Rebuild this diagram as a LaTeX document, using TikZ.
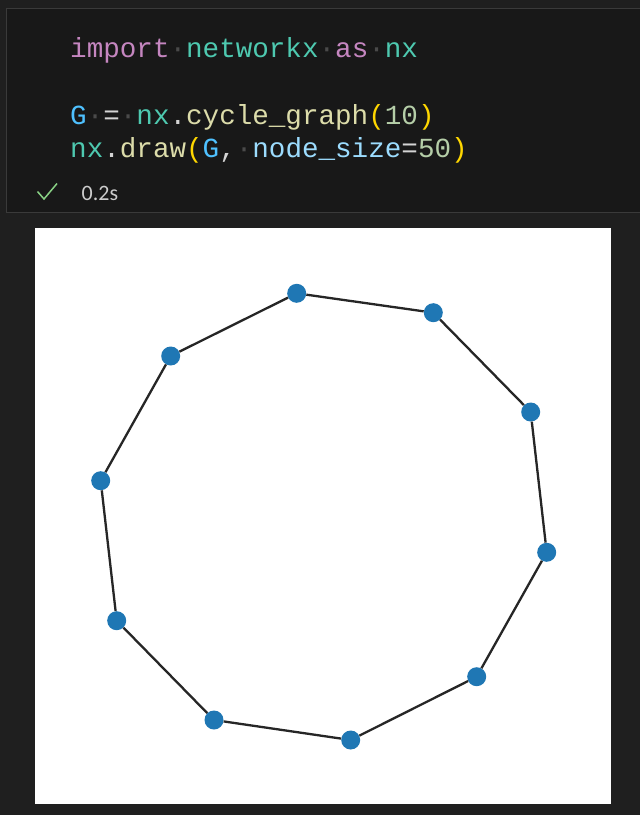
\documentclass[tikz,border=0pt]{standalone}
\usepackage{fontspec}
\newfontfamily\codefont{Liberation Mono}
\newfontfamily\uifont{Carlito}
\definecolor{bgdark}{HTML}{1F1F1F}
\definecolor{cellbg}{HTML}{181818}
\definecolor{cellborder}{HTML}{3A3A3A}
\definecolor{kwpink}{HTML}{C586C0}
\definecolor{modteal}{HTML}{4EC9B0}
\definecolor{varblue}{HTML}{4FC1FF}
\definecolor{fnyellow}{HTML}{DCDCAA}
\definecolor{bracegold}{HTML}{FFD700}
\definecolor{numgreen}{HTML}{B5CEA8}
\definecolor{argblue}{HTML}{9CDCFE}
\definecolor{plaintext}{HTML}{D4D4D4}
\definecolor{wsdot}{HTML}{4A4A4A}
\definecolor{okgreen}{HTML}{89D185}
\definecolor{timegray}{HTML}{CCCCCC}
\definecolor{nxblue}{HTML}{1F77B4}
\newcommand{\ws}{{\color{wsdot}·}}
\begin{document}
\begin{tikzpicture}[x=1pt, y=-1pt,
      codeline/.style = {
        anchor=base west, inner sep=0pt, font=\codefont\fontsize{27.6}{30}\selectfont,
        text=plaintext },
      vertex/.style = {
        circle, fill=nxblue, inner sep=0pt, minimum size=19pt },
      edge/.style = { draw, line width=2.3pt, black!85 }]
    \useasboundingbox (0,0) rectangle (640,815);
    \fill[bgdark] (0,0) rectangle (640,815);
    \filldraw[fill=cellbg, draw=cellborder, line width=1pt] (6.5,8.5) rectangle (660,212);
    \node [codeline] (codeimport) at (70,57) {{\color{kwpink}import}\ws{\color{modteal}networkx}\ws{\color{kwpink}as}\ws{\color{modteal}nx}};
    \node [codeline] (codegraph) at (70,124.5) {{\color{varblue}G}\ws=\ws{\color{modteal}nx}.{\color{fnyellow}cycle\_graph}{\color{bracegold}(}{\color{numgreen}10}{\color{bracegold})}};
    \node [codeline] (codedraw) at (70,157.5) {{\color{modteal}nx}.{\color{fnyellow}draw}{\color{bracegold}(}{\color{varblue}G},\ws{\color{argblue}node\_size}={\color{numgreen}50}{\color{bracegold})}};
    \draw[okgreen, line width=1.5pt] (37.5,191.5) -- (44,199) -- (57,183.5);
    \node [anchor=base west, inner sep=0pt, text=timegray, font=\uifont\fontsize{22}{25}\selectfont] (timing) at (81.5,200) {0.2s};
    % plot area
    \fill[white] (35,228) rectangle (611,803.5);
    \node [vertex] (v0) at (296.7,293.3) {};
    \node [vertex] (v1) at (433.3,312.7) {};
    \node [vertex] (v2) at (530.7,412) {};
    \node [vertex] (v3) at (546.7,552.3) {};
    \node [vertex] (v4) at (476.7,676.7) {};
    \node [vertex] (v5) at (350.7,740) {};
    \node [vertex] (v6) at (214,720) {};
    \node [vertex] (v7) at (116.7,620.7) {};
    \node [vertex] (v8) at (100.7,480.7) {};
    \node [vertex] (v9) at (170.7,356) {};
    % connect the cycle
    \draw[edge] (v0) -- (v1);
    \draw[edge] (v1) -- (v2);
    \draw[edge] (v2) -- (v3);
    \draw[edge] (v3) -- (v4);
    \draw[edge] (v4) -- (v5);
    \draw[edge] (v5) -- (v6);
    \draw[edge] (v6) -- (v7);
    \draw[edge] (v7) -- (v8);
    \draw[edge] (v8) -- (v9);
    \draw[edge] (v9) -- (v0);
  \end{tikzpicture}
\end{document}
